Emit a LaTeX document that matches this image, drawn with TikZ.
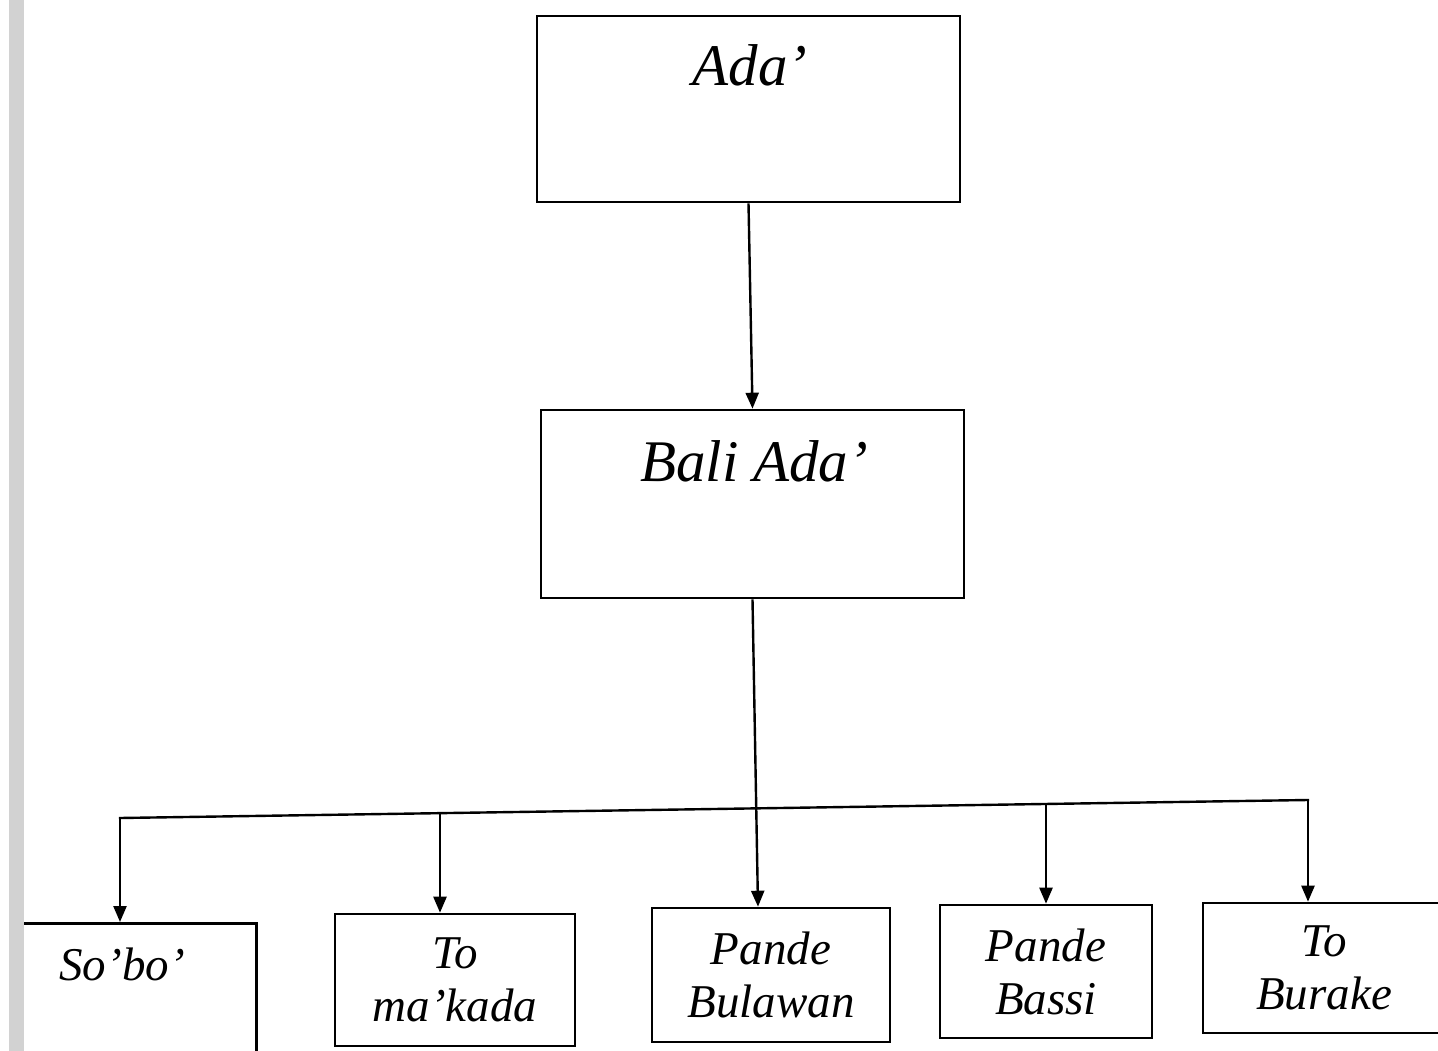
\documentclass[tikz,border=0pt]{standalone}
\usepackage{fontspec}
\setmainfont{Liberation Serif}
\usetikzlibrary{arrows.meta}
\begin{document}
\begin{tikzpicture}[x=1pt,y=-1pt,
  box/.style={draw=black, line width=2.6pt, rectangle, inner sep=0pt},
  bigtxt/.style={font=\fontsize{59}{64}\selectfont\itshape, inner sep=0pt},
  smalltxt/.style={font=\fontsize{47}{53}\selectfont\itshape, align=center, inner sep=0pt},
  arr/.style={line width=2.4pt, -{Triangle[length=16pt,width=13pt]}},
  wire/.style={line width=2.4pt}]
\path[use as bounding box, fill=white] (0,0) rectangle (1438,1051);
\clip (0,0) rectangle (1438,1051);

\node[box, minimum width=423pt, minimum height=186pt] (ada) at (748.5,109) {};
\node[bigtxt, anchor=base] (adat) at (750,86) {Ada’};
\node[box, minimum width=423pt, minimum height=188pt] (bali) at (752.5,504) {};
\node[bigtxt, anchor=base] (balit) at (754,481) {Bali Ada’};

\node[box, minimum width=245pt, minimum height=170pt, anchor=north west] (sobo) at (10,922) {};
\node[smalltxt, anchor=base] (sobot) at (122,980) {So’bo’};
\node[box, smalltxt, minimum width=240pt, minimum height=132pt] (mak) at (455,980) {To\\ma’kada};
\node[box, smalltxt, minimum width=238pt, minimum height=134pt] (bul) at (771,975) {Pande\\Bulawan};
\node[box, smalltxt, minimum width=212pt, minimum height=133pt] (bas) at (1046,971.5) {Pande\\Bassi};
\node[box, smalltxt, minimum width=242pt, minimum height=130pt] (bur) at (1324,968) {To\\Burake};

\draw[arr] (ada.south) -- (bali.north);

\coordinate (j1) at (120,818);
\coordinate (j2) at (440,813);
\coordinate (j3) at (758,808);
\coordinate (j4) at (1046,804);
\coordinate (j5) at (1308,800);
\draw[wire, line cap=rect] (j1) -- (j5);
\draw[arr] (bali.south) -- (j3 |- bul.north);
\draw[arr] (j1) -- (j1 |- sobo.north);
\draw[arr] (j2) -- (j2 |- mak.north);
\draw[arr] (j4) -- (j4 |- bas.north);
\draw[arr] (j5) -- (j5 |- bur.north);

\fill[gray!35] (9,0) rectangle (24,1051);
\end{tikzpicture}
\end{document}
